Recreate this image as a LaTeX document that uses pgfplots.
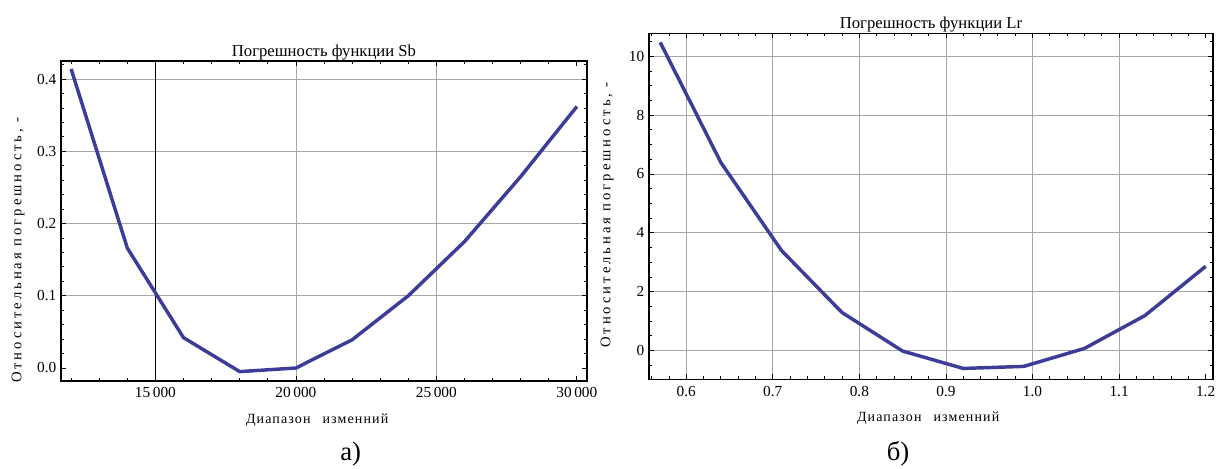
\documentclass[border=0pt]{standalone}
\usepackage{fontspec}
\setmainfont{Liberation Serif}
\newfontfamily\spaced[LetterSpace=20]{Liberation Serif}
\newfontfamily\spacedx[LetterSpace=8]{Liberation Serif}
\usepackage{pgfplots}
\pgfplotsset{compat=1.18}
\definecolor{curve}{RGB}{61,61,153}

\pgfplotsset{
  every axis title/.style={at={(0.5,1)}, anchor=base, yshift=3.5pt, inner sep=0pt,
    font=\fontsize{12.5}{14}\selectfont},
  mma/.style={
    scale only axis,
    anchor=south west,
    axis line style={line width=0.8pt},
    tick align=inside,
    major tick length=3.75pt,
    minor tick length=2.25pt,
    every tick/.style={black, line width=0.6pt},
    grid=major,
    grid style={gray!70, line width=0.6pt},
    scaled x ticks=false, scaled y ticks=false,
    /pgf/number format/assume math mode=true,
    tick label style={font=\fontsize{11.5}{13}\selectfont},
    xticklabel style={yshift=-1.5pt},
    xlabel style={anchor=center, font=\fontsize{10.5}{12}\selectfont\spacedx},
    ylabel style={anchor=center, rotate=0, font=\fontsize{11}{13}\selectfont\spaced},
  }
}

\begin{document}
\begin{tikzpicture}
\useasboundingbox (0,0) rectangle (913.5pt,351pt);

% a) Sb
\begin{axis}[mma,
  at={(45.75pt,65.25pt)},
  width=394.5pt, height=240pt,
  xmin=11640, xmax=30360, ymin=-0.018, ymax=0.425,
  xtick={15000,20000,25000}, extra x ticks={30000}, extra x tick style={grid=none},
  ytick={0.1,0.2,0.3,0.4}, extra y ticks={0}, extra y tick style={grid=none},
  minor xtick={12000,13000,...,30000},
  minor ytick={0,0.02,...,0.42},
  xticklabel style={/pgf/number format/1000 sep={\,}},
  yticklabel style={/pgf/number format/.cd, fixed, fixed zerofill, precision=1},
  title={Погрешность функции Sb},
  xlabel={Диапазон\hspace{9pt}изменний},
  ylabel={Относительная погрешность, -},
  xlabel style={at={(axis description cs:0.487,-0.122)}},
  ylabel style={at={(axis description cs:-0.0817,0.409)}},
]
\draw[black, line width=0.6pt] (axis cs:15000,-0.018) -- (axis cs:15000,0.425);
\addplot[curve, line width=2.6pt, line join=round] coordinates {
  (12000,0.414) (14000,0.166) (16000,0.042) (18000,-0.005) (20000,0.000)
  (22000,0.039) (24000,0.100) (26000,0.175) (28000,0.265) (30000,0.362)
};
\end{axis}

% b) Lr
\begin{axis}[mma,
  at={(486.75pt,66.5pt)},
  width=423pt, height=259.5pt,
  xmin=0.557, xmax=1.2085, ymin=-0.98, ymax=10.78,
  xtick={0.6,0.7,0.8,0.9,1.0,1.1}, extra x ticks={1.2}, extra x tick style={grid=none},
  ytick={0,2,4,6,8,10},
  minor xtick={0.56,0.58,...,1.2},
  minor ytick={-0.5,0,...,10.5},
  xticklabel style={/pgf/number format/.cd, fixed, fixed zerofill, precision=1},
  title={Погрешность функции Lr},
  xlabel={Диапазон\hspace{9pt}изменний},
  ylabel={Относительная погрешность, -},
  xlabel style={at={(axis description cs:0.495,-0.112)}},
  ylabel style={at={(axis description cs:-0.0745,0.475)}},
]
\addplot[curve, line width=2.6pt, line join=round] coordinates {
  (0.57,10.47) (0.64,6.39) (0.71,3.40) (0.78,1.29) (0.85,-0.02)
  (0.92,-0.61) (0.99,-0.54) (1.06,0.07) (1.13,1.19) (1.20,2.86)
};
\end{axis}

\node[font=\fontsize{20}{22}\selectfont] at (263pt,10.5pt) {а)};
\node[font=\fontsize{20}{22}\selectfont] at (673.5pt,10.5pt) {б)};
\end{tikzpicture}
\end{document}
